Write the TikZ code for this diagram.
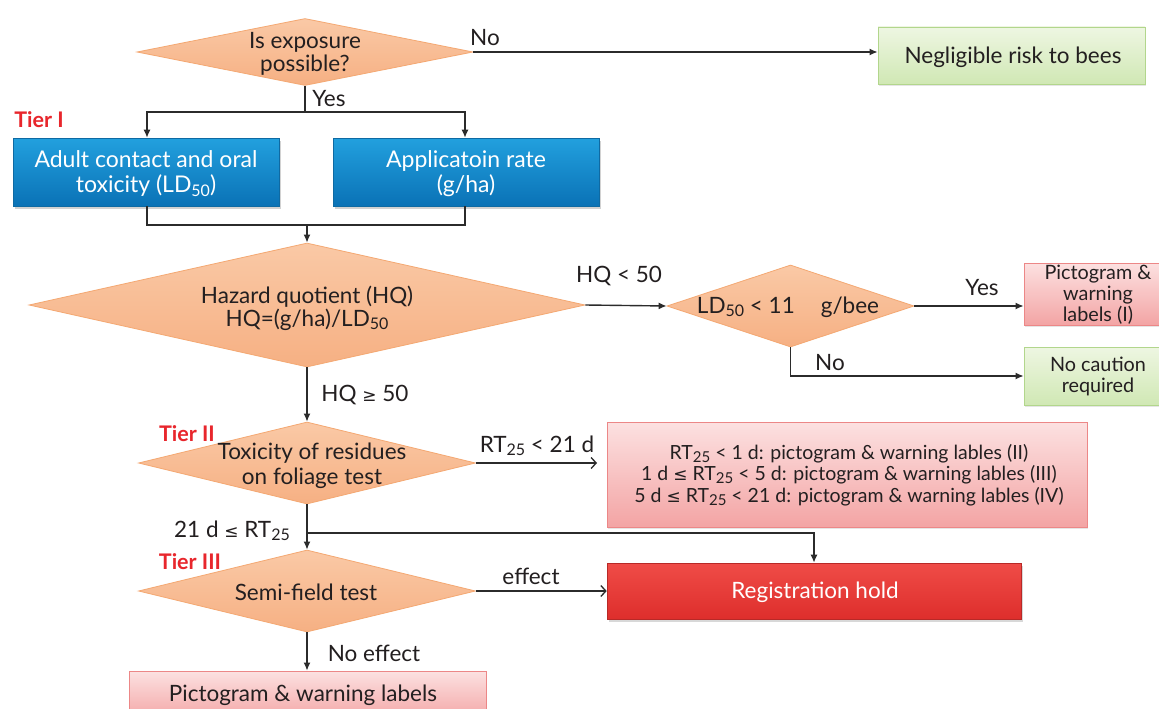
\documentclass[tikz,border=0pt]{standalone}
\usepackage{fontspec}
\setmainfont{Lato}
\newfontfamily\symb{DejaVu Sans}
\usetikzlibrary{shapes.geometric,arrows.meta,shadows}

\definecolor{ink}{HTML}{231F20}
\definecolor{lineink}{HTML}{2B2B2B}
\definecolor{tierred}{HTML}{E8262C}
\definecolor{diatop}{HTML}{FAC9A6}
\definecolor{diabot}{HTML}{F6B083}
\definecolor{diadraw}{HTML}{F4A872}
\definecolor{bluetop}{HTML}{22A0DE}
\definecolor{bluebot}{HTML}{0A72B6}
\definecolor{bluedraw}{HTML}{0E6AA3}
\definecolor{greentop}{HTML}{EEF6E2}
\definecolor{greenbot}{HTML}{D0E8B4}
\definecolor{greendraw}{HTML}{B2D68C}
\definecolor{pinktop}{HTML}{FCE1E1}
\definecolor{pinkbot}{HTML}{F3A4A4}
\definecolor{pinkdraw}{HTML}{EC8787}
\definecolor{holdtop}{HTML}{EF4C47}
\definecolor{holdbot}{HTML}{DE2E2C}
\definecolor{holddraw}{HTML}{B82927}

% subscripts set slightly below the baseline
\newcommand\lowr[1]{\raisebox{-0.3ex}{\fontsize{16}{16}\selectfont #1}}
\newcommand\lowrs[1]{\raisebox{-0.3ex}{\fontsize{15}{15}\selectfont #1}}
\newcommand\rel[1]{{\symb\fontsize{17}{17}\selectfont #1}}

\tikzset{
  txt/.style={align=center, text=ink, inner sep=0pt, font=\fontsize{22.5}{24}\selectfont},
  smalltxt/.style={txt, font=\fontsize{19.8}{21}\selectfont},
  tier/.style={text=tierred, inner sep=0pt, font=\bfseries\fontsize{21.5}{24}\selectfont},
  dia/.style={diamond, inner sep=0pt, draw=diadraw, line width=0.8pt,
    top color=diatop, bottom color=diabot},
  bluebox/.style={rectangle, inner sep=0pt, draw=bluedraw, line width=0.6pt,
    top color=bluetop, bottom color=bluebot,
    drop shadow={shadow xshift=1.5pt, shadow yshift=-2.5pt, opacity=0.35}},
  greenbox/.style={rectangle, inner sep=0pt, draw=greendraw, line width=0.8pt,
    top color=greentop, bottom color=greenbot,
    drop shadow={shadow xshift=1pt, shadow yshift=-2pt, opacity=0.2}},
  pinkbox/.style={rectangle, inner sep=0pt, draw=pinkdraw, line width=0.8pt,
    top color=pinktop, bottom color=pinkbot,
    drop shadow={shadow xshift=1pt, shadow yshift=-2pt, opacity=0.2}},
  holdbox/.style={rectangle, inner sep=0pt, draw=holddraw, line width=0.6pt,
    top color=holdtop, bottom color=holdbot,
    drop shadow={shadow xshift=1.5pt, shadow yshift=-2.5pt, opacity=0.3}},
  link/.style={draw=lineink, line width=1.4pt},
  arr/.style={link, -{Latex[length=8pt,width=7pt]}},
  oarr/.style={link, -{Straight Barb[length=5pt,width=11pt,line width=1.3pt]}},
}

\begin{document}
\begin{tikzpicture}[x=1pt,y=-1pt]
\useasboundingbox (0,0) rectangle (1159,709);
\clip (0,0) rectangle (1159,709);
\fill[white] (0,0) rectangle (1159,709);

% ---------- shapes ----------
\node[dia, minimum width=336, minimum height=67] (d1) at (305,52) {};
\node[txt, font=\fontsize{22.5}{23}\selectfont] at (305,54) {Is exposure\\possible?};

\node[greenbox, minimum width=267, minimum height=57] (g1) at (1011.5,55.5) {};
\node[txt] at (1013,57) {Negligible risk to bees};

\node[bluebox, minimum width=266, minimum height=68] (b1) at (146,172) {};
\node[txt, text=white, font=\fontsize{23}{25}\selectfont] at (146,174) {Adult contact and oral\\toxicity (LD\lowr{50})};
\node[bluebox, minimum width=266, minimum height=68] (b2) at (466,172) {};
\node[txt, text=white, font=\fontsize{23}{25}\selectfont] at (466,174) {Applicatoin rate\\(g/ha)};

\node[dia, minimum width=556, minimum height=124] (hq) at (307,305) {};
\node[txt, font=\fontsize{22.5}{23}\selectfont] at (307,308) {Hazard quotient (HQ)\\HQ=(g/ha)/LD\lowr{50}};

\node[dia, minimum width=247, minimum height=82] (ld) at (790.5,306) {};
\node[txt] at (788,307) {LD\lowr{50} < 11\hspace{0.9em} g/bee};

\node[pinkbox, minimum width=148, minimum height=62] (p1) at (1098,294) {};
\node[smalltxt] at (1098,295) {Pictogram \&\\warning\\labels (I)};
\node[greenbox, minimum width=148, minimum height=58] (g2) at (1098,376) {};
\node[smalltxt] at (1098,376) {No caution\\required};

\node[dia, minimum width=337, minimum height=82] (t2) at (307,463) {};
\node[txt, font=\fontsize{22.5}{25}\selectfont] at (312,466) {Toxicity of residues\\on foliage test};

\node[pinkbox, minimum width=480, minimum height=105] (pb) at (847,474.5) {};
\node[smalltxt, font=\fontsize{19.5}{21.5}\selectfont] at (849,475) {%
  RT\lowrs{25} < 1 d: pictogram \& warning lables (II)\\
  1 d \rel{≤} RT\lowrs{25} < 5 d: pictogram \& warning lables (III)\\
  5 d \rel{≤} RT\lowrs{25} < 21 d: pictogram \& warning lables (IV)};

\node[dia, minimum width=337, minimum height=82] (t3) at (307,591) {};
\node[txt] at (306,592) {Semi-field test};

\node[holdbox, minimum width=414, minimum height=56] (rh) at (814,591) {};
\node[txt, text=white] at (815,592) {Registration hold};

\node[pinkbox, minimum width=357, minimum height=50] (bp) at (307.5,696) {};
\node[txt] at (303,695) {Pictogram \& warning labels};

% ---------- tier labels ----------
\node[tier] (tier1) at (39,120) {Tier I};
\node[tier] (tier2) at (187,434) {Tier II};
\node[tier] (tier3) at (190,562) {Tier III};

% ---------- connectors ----------
\draw[arr] (d1.east) -- (d1.east -| g1.west);
\node[txt] at (485,38) {No};

\coordinate (j1) at (305,112);
\draw[link] (d1.south) -- (j1);
\draw[arr] (j1) -| ([xshift=1pt]b1.north);
\draw[arr] (j1) -| ([xshift=-1pt]b2.north);
\node[txt] at (329,99) {Yes};

\coordinate (j2) at (307,225);
\draw[link] ([xshift=1pt]b1.south) |- (j2);
\draw[link] ([xshift=-1pt]b2.south) |- (j2);
\draw[arr] (j2) -- (hq.north);

\draw[arr] (hq.east) -- (ld.west);
\node[txt] at (619,276) {HQ < 50};

\draw[arr] (ld.east) -- (ld.east -| p1.west);
\node[txt] at (982,288) {Yes};
\draw[arr] (ld.south) |- (g2.west);
\node[txt] at (830,363) {No};

\draw[arr] (hq.south) -- (t2.north);
\node[txt] at (365,395) {HQ \rel{≥} 50};

\coordinate (rtend) at (597,463);
\draw[oarr] (t2.east) -- (rtend);
\node[txt] at (537,446) {RT\lowr{25} < 21 d};

\coordinate (j3) at (307,533);
\draw[arr] (t2.south) -- (t3.north);
\draw[arr] (j3) -| (rh.north);
\node[txt] at (232,531) {21 d \rel{≤} RT\lowr{25}};

\draw[oarr] (t3.east) -- (rh.west);
\node[txt] at (531,576) {effect};

\draw[arr] (t3.south) -- (t3.south |- bp.north);
\node[txt] at (374,653) {No effect};
\end{tikzpicture}
\end{document}
